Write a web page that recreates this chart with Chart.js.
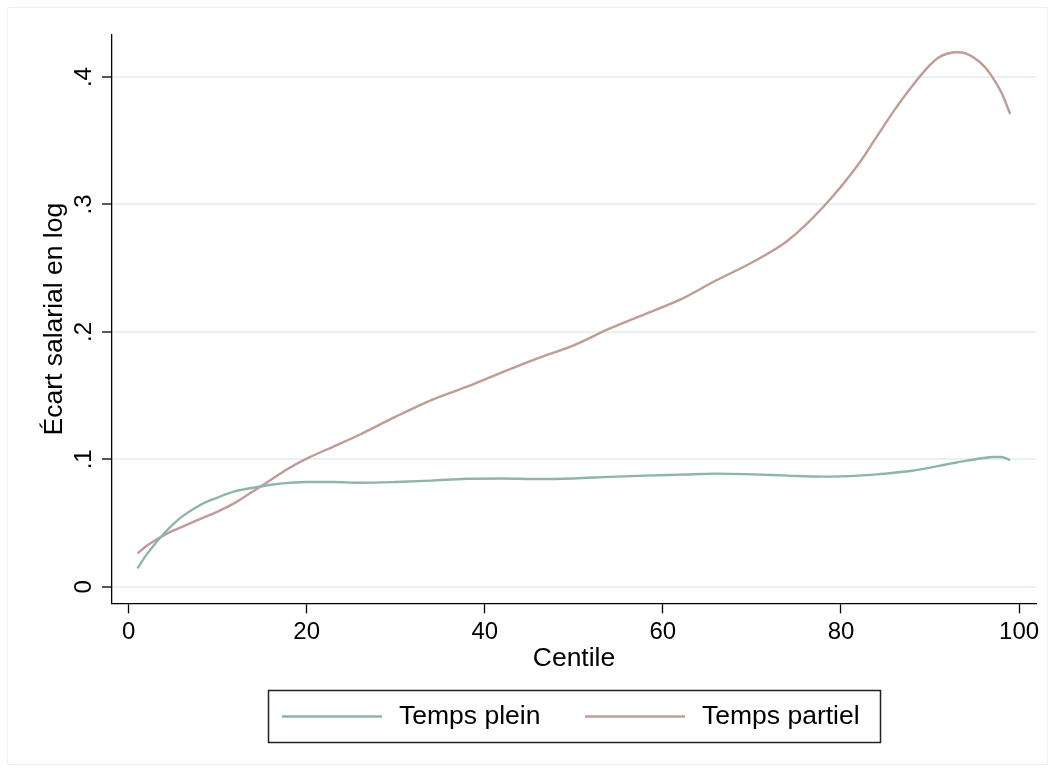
<!DOCTYPE html>
<html lang="fr">
<head>
  <meta charset="UTF-8" />
  <title>Écart salarial en log par centile</title>
  <script src="https://cdn.jsdelivr.net/npm/chart.js"></script>
  <style>
    html, body { margin: 0; padding: 0; background: #fff; }
    #wrap { position: relative; width: 1055px; height: 772px; }
  </style>
</head>
<body>
  <div id="wrap">
    <canvas id="gapChart" width="1055" height="772"></canvas>
  </div>

  <script>
// centiles (x) and smoothed log wage gap for each series
const centiles = [1, 2, 3, 4, 5, 6, 8, 10, 12, 14, 16, 18, 20, 23, 26, 30, 34, 38, 42, 46, 50,
  54, 58, 62, 66, 70, 74, 78, 82, 84, 86, 88, 90, 91, 92, 93, 94, 96, 97, 98, 99];
const tempsPlein = [0.0144, 0.025, 0.034, 0.042, 0.049, 0.055, 0.064, 0.070, 0.075, 0.0777, 0.080,
  0.0815, 0.0822, 0.0822, 0.0816, 0.0822, 0.0833, 0.0848, 0.0850, 0.0845, 0.0850, 0.0862, 0.0872,
  0.0880, 0.0888, 0.0882, 0.0872, 0.0864, 0.0872, 0.0882, 0.0895, 0.0910, 0.0935, 0.0948, 0.0962,
  0.0975, 0.0988, 0.1010, 0.1018, 0.1018, 0.0994];
const tempsPartiel = [0.0262, 0.032, 0.0365, 0.0405, 0.044, 0.047, 0.053, 0.059, 0.066, 0.075, 0.084,
  0.093, 0.1005, 0.110, 0.1195, 0.1335, 0.1465, 0.157, 0.1685, 0.1795, 0.1895, 0.2025, 0.214,
  0.2255, 0.2405, 0.2545, 0.2715, 0.298, 0.332, 0.353, 0.374, 0.393, 0.4095, 0.4155, 0.4185,
  0.4195, 0.4185, 0.409, 0.400, 0.388, 0.371];

const xTicks = [0, 20, 40, 60, 80, 100];
const yTicks = [0, 0.1, 0.2, 0.3, 0.4];
const yTickLabels = ['0', '.1', '.2', '.3', '.4'];
const seriesLabels = ['Temps plein', 'Temps partiel'];

const GREEN = '#8fb4aa';
const BROWN = '#c19c96';
const GRID = '#e8f1f3';
const FONT = '"Liberation Sans", Arial, Helvetica, sans-serif';

const toPoints = vals => centiles.map((c, i) => ({ x: c, y: vals[i] }));

// outer frame + boxed legend (stata style)
const framePlugin = {
  id: 'frame',
  beforeDraw(chart) {
    const ctx = chart.ctx;
    ctx.save();
    ctx.strokeStyle = GRID;
    ctx.lineWidth = 1;
    ctx.strokeRect(7.5, 7.5, 1040, 757);
    ctx.restore();
  },
  afterDraw(chart) {
    const ctx = chart.ctx;
    ctx.save();
    ctx.strokeStyle = '#222';
    ctx.lineWidth = 1.5;
    ctx.strokeRect(268.5, 690.5, 612, 52);
    const items = [
      { x: 282, color: chart.data.datasets[0].borderColor, label: chart.data.datasets[0].label },
      { x: 585, color: chart.data.datasets[1].borderColor, label: chart.data.datasets[1].label }
    ];
    ctx.font = '26.5px ' + FONT;
    ctx.fillStyle = '#000';
    ctx.textBaseline = 'middle';
    ctx.textAlign = 'left';
    items.forEach(it => {
      ctx.strokeStyle = it.color;
      ctx.lineWidth = 2.4;
      ctx.beginPath();
      ctx.moveTo(it.x, 716.5);
      ctx.lineTo(it.x + 100, 716.5);
      ctx.stroke();
      ctx.fillText(it.label, it.x + 117, 717);
    });
    ctx.restore();
  }
};

new Chart(document.getElementById('gapChart'), {
  type: 'line',
  data: {
    datasets: [
      {
        label: seriesLabels[0],
        data: toPoints(tempsPlein),
        borderColor: GREEN,
        borderWidth: 2.4,
        pointRadius: 0,
        cubicInterpolationMode: 'monotone',
        fill: false
      },
      {
        label: seriesLabels[1],
        data: toPoints(tempsPartiel),
        borderColor: BROWN,
        borderWidth: 2.4,
        pointRadius: 0,
        cubicInterpolationMode: 'monotone',
        fill: false
      }
    ]
  },
  options: {
    responsive: false,
    animation: false,
    layout: { padding: { left: 0, right: 19, top: 35, bottom: 97 } },
    plugins: {
      legend: { display: false },
      tooltip: { enabled: false }
    },
    scales: {
      x: {
        type: 'linear',
        min: -1.86,
        max: 101.9,
        afterBuildTicks: axis => { axis.ticks = xTicks.map(v => ({ value: v })); },
        afterFit: axis => { axis.height = 71.7; },
        grid: { drawOnChartArea: false, drawTicks: true, tickLength: 10, tickColor: '#000', tickWidth: 1.3 },
        border: { display: true, color: '#000', width: 1.3 },
        ticks: {
          color: '#000',
          padding: 5,
          maxRotation: 0,
          font: { family: FONT, size: 24 },
          callback: v => String(v)
        },
        title: {
          display: true,
          text: 'Centile',
          color: '#000',
          padding: { top: 0, bottom: 0 },
          font: { family: FONT, size: 26.5 }
        }
      },
      y: {
        type: 'linear',
        min: -0.013,
        max: 0.433,
        afterBuildTicks: axis => { axis.ticks = yTicks.map(v => ({ value: v })); },
        afterFit: axis => { axis.width = 112; },
        grid: { color: GRID, lineWidth: 2, drawTicks: true, tickLength: 10, tickColor: '#000', tickWidth: 1.3 },
        border: { display: true, color: '#000', width: 1.3 },
        ticks: {
          color: '#000',
          padding: 8,
          minRotation: 90,
          maxRotation: 90,
          crossAlign: 'center',
          font: { family: FONT, size: 24 },
          callback: v => yTickLabels[yTicks.indexOf(v)] ?? ''
        },
        title: {
          display: true,
          text: 'Écart salarial en log',
          color: '#000',
          padding: { top: 39, bottom: 0 },
          font: { family: FONT, size: 26.5 }
        }
      }
    }
  },
  plugins: [framePlugin]
});
  </script>
</body>
</html>
